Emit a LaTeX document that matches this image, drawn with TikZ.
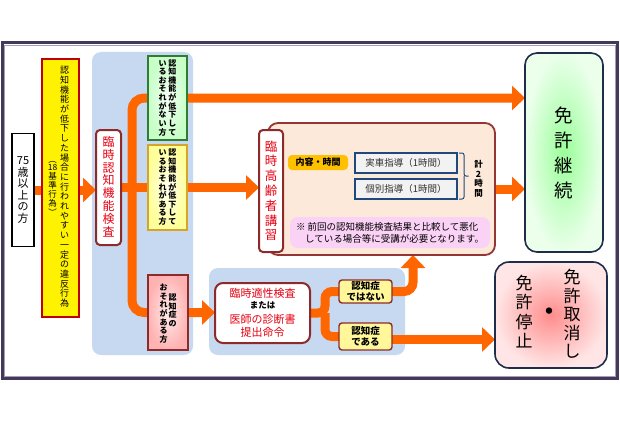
\documentclass[tikz,border=0pt]{standalone}
\usepackage{fontspec}
\setmainfont{Noto Sans CJK JP}
\usetikzlibrary{arrows.meta,calc}
\definecolor{orng}{HTML}{FF6600}
\definecolor{frameD}{HTML}{45395A}
\definecolor{frameL}{HTML}{A89CBB}
\definecolor{bluep}{HTML}{C6D9F0}
\definecolor{dred}{HTML}{8E2A2A}
\definecolor{redtxt}{HTML}{E60012}
\definecolor{vred}{HTML}{C00000}
\definecolor{dgreen}{HTML}{2E7D32}
\definecolor{gold}{HTML}{D4A52A}
\definecolor{peachf}{HTML}{FDE9D9}
\definecolor{peachd}{HTML}{943634}
\definecolor{navy}{HTML}{1F2D4A}
\definecolor{itemb}{HTML}{1F497D}
\definecolor{notef}{HTML}{FAD2F6}
\definecolor{labelf}{HTML}{FFC000}
\definecolor{ynote}{HTML}{FFF799}
\makeatletter
\newlength\vpitch
\newcommand\vstk[2][1.1em]{\vtop{\offinterlineskip\setlength\vpitch{#1}\vst@k#2\@nil}}
\def\vst@k#1{\def\vst@tmp{#1}\ifx\vst@tmp\vst@nil\else\hbox to 1.2em{\hss\vrule height 0.8\vpitch depth 0.2\vpitch width 0pt #1\hss}\expandafter\vst@k\fi}
\def\vst@nil{\@nil}
\makeatother
\newcommand\rpar[1]{\rotatebox[origin=c]{-90}{#1}}
\pgfdeclarelayer{bg}
\pgfdeclarelayer{mid}
\pgfsetlayers{bg,mid,main}
\tikzset{
  arr/.style={draw=orng, line width=9pt, -{Triangle[width=24pt,length=13pt]}},
  oline/.style={draw=orng, line width=9pt},
  redbox/.style={draw=dred, line width=2pt, fill=white, rounded corners=4pt},
  panel/.style={fill=bluep, rounded corners=9pt},
  smallbox/.style={line width=1.5pt, font=\fontsize{8}{9}\selectfont\bfseries},
  itembox/.style={draw=itemb, line width=1.2pt, fill=black!5, minimum width=102, minimum height=20, font=\fontsize{9.5}{11}\selectfont, text=black!80},
  ybox/.style={draw=dred, line width=1.4pt, fill=ynote, rounded corners=3pt, minimum width=53, align=center, font=\fontsize{9.5}{10.5}\selectfont\bfseries},
  bigbox/.style={draw=navy, line width=1.6pt},
  brk/.style={draw=itemb, line width=1pt, rounded corners=2pt}
}
\begin{document}
\begin{tikzpicture}[x=1pt,y=-1pt, every node/.style={inner sep=0pt,outer sep=0pt}]
\useasboundingbox (0,0) rectangle (620,420);
% nodes
\node[draw=black, line width=1.3pt, fill=white, minimum width=22, minimum height=113, font=\fontsize{11}{12}\selectfont] (old) at (23,190) {\vstk[11.5pt]{{75}歳以上の方}};
\node[draw=vred, line width=1.5pt, fill=yellow, minimum width=37, minimum height=258] (viol) at (60.5,188) {};
\node[anchor=north, font=\fontsize{9}{10}\selectfont] (violR) at (64.5,66) {\vstk[9.7pt]{認知機能が低下した場合に行われやすい一定の違反行為}};
\node[anchor=north, font=\fontsize{8.5}{9}\selectfont] (violL) at (52.5,155) {\vstk[8.5pt]{{\rpar{（}}{18}基準行為{\rpar{）}}}};
\node[redbox, minimum width=25, minimum height=115, font=\fontsize{12}{13}\selectfont, text=redtxt] (kensa) at (108.5,187.5) {\vstk[12.9pt]{臨時認知機能検査}};
\node[smallbox, draw=dgreen, inner color=green!4, outer color=green!22!white, minimum width=39, minimum height=84] (gsmall) at (167.5,98) {\hbox{\vstk[8.6pt]{いるおそれがない方}\vstk[8.6pt]{認知機能が低下して}}};
\node[smallbox, draw=gold, inner color=yellow!6, outer color=yellow!40!white, minimum width=39, minimum height=85] (ysmall) at (167.5,187.5) {\hbox{\vstk[8.6pt]{いるおそれがある方}\vstk[8.6pt]{認知機能が低下して}}};
\node[smallbox, draw=dred, inner color=red!8, outer color=red!30!white, minimum width=40, minimum height=75] (psmall) at (168,312.5) {};
\node[font=\fontsize{8}{9}\selectfont\bfseries] (psR) at (172.5,311) {\vstk[8.5pt]{認知症の}};
\node[font=\fontsize{8}{9}\selectfont\bfseries] (psL) at (163.5,314) {\vstk[8.6pt]{おそれがある方}};
% lecture
\node[fill=peachf, draw=peachd, line width=1.8pt, rounded corners=10pt, minimum width=227, minimum height=132] (peach) at (381.5,189) {};
\node[redbox, minimum width=24, minimum height=122, font=\fontsize{12.5}{13}\selectfont, text=redtxt] (koshu) at (271,191) {\vstk[14.8pt]{臨時高齢者講習}};
\node[fill=labelf, rounded corners=4pt, minimum width=60, minimum height=15, font=\fontsize{9}{10}\selectfont\bfseries] (naiyo) at (318,162.5) {内容・時間};
\node[itembox] (jissha) at (406,163) {実車指導（1時間）};
\node[itembox] (kobetsu) at (406,189) {個別指導（1時間）};
\node[font=\fontsize{8.5}{9}\selectfont\bfseries] (kei) at (478.5,179) {\vstk[9.5pt]{計{2}時間}};
\node[fill=notef, rounded corners=8pt, minimum width=200, minimum height=31] (note) at (390,232.5) {};
\node[align=left, font=\fontsize{9.5}{12}\selectfont] (notet) at (note.center) {※ 前回の認知機能検査結果と比較して悪化\\\hspace*{0.95em}している場合等に受講が必要となります。};
% aptitude
\node[redbox, rounded corners=8pt, minimum width=95, minimum height=60, align=center, font=\fontsize{11}{13}\selectfont, text=redtxt] (tekisei) at (262.5,313) {臨時適性検査\\[-1.5pt]{\fontsize{8.5}{10}\selectfont\bfseries\color{black}または}\\[1.5pt]医師の診断書\\[0.5pt]提出命令};
\node[ybox, minimum height=23] (nai) at (365.5,291.5) {認知症\\ではない};
\node[ybox, minimum height=27] (aru) at (365.5,336.5) {認知症\\である};
% results
\node[bigbox, rounded corners=12pt, inner color=green!40!white, outer color=green!8!white, minimum width=78, minimum height=199, font=\fontsize{18.5}{20}\selectfont] (keizoku) at (564,152.5) {\vstk[25pt]{免許継続}};
\node[bigbox, rounded corners=14pt, inner color=red!45!white, outer color=red!10!white, minimum width=112, minimum height=106] (stop) at (551,315) {};
\node[font=\fontsize{17}{18}\selectfont] (stopR) at (572,315) {\vstk[18.5pt]{免許取消し}};
\node[font=\fontsize{17}{18}\selectfont] (stopL) at (524,312.5) {\vstk[19.5pt]{免許停止}};
\node[font=\fontsize{30}{30}\selectfont] (dot) at (549,315) {・};
\coordinate (brx) at (132,186);
\coordinate (tx) at (325,313);
\coordinate (upx) at (413,255);
% background
\begin{pgfonlayer}{bg}
\fill[white] (0,0) rectangle (620,420);
\draw[draw=frameD, line width=3pt] (2.5,43) rectangle (617.5,378);
\draw[draw=frameL, line width=0.8pt] (4.6,45.1) rectangle (615.4,375.9);
\node[panel, minimum width=101, minimum height=303] (p1) at (142.5,203.5) {};
\node[panel, minimum width=196, minimum height=87] (p2) at (307,311.5) {};
\end{pgfonlayer}
% connectors
\begin{pgfonlayer}{mid}
\draw[arr] (old.east) -- (old.east -| kensa.west);
\draw[oline, {Triangle[width=24pt,length=13pt]}-{Triangle[width=24pt,length=13pt]}, rounded corners=12pt] (keizoku.west |- gsmall.center) -- (brx |- gsmall.center) -- (brx |- psmall.center) -- (tekisei.west |- psmall.center);
\draw[arr] (kensa.east) -- (kensa.east -| koshu.west);
\draw[arr] (peach.east) -- (peach.east -| keizoku.west);
\draw[oline, rounded corners=7pt] (tekisei.east) -- (tx) |- (nai.west);
\draw[oline, rounded corners=7pt] (tx) |- (aru.west);
\draw[arr, rounded corners=9pt] (nai.east) -| (upx |- peach.south);
\draw[arr] ([yshift=-3pt]aru.east) -- ([yshift=-3pt]aru.east -| stop.west);
\end{pgfonlayer}
\draw[brk] ([xshift=2pt]jissha.north east) -| ($(jissha.east)!0.5!(kobetsu.east)+(7,0)$) -- ++(4.5,0);
\draw[brk] ([xshift=2pt]kobetsu.south east) -| ($(jissha.east)!0.5!(kobetsu.east)+(7,0)$);
\end{tikzpicture}
\end{document}
